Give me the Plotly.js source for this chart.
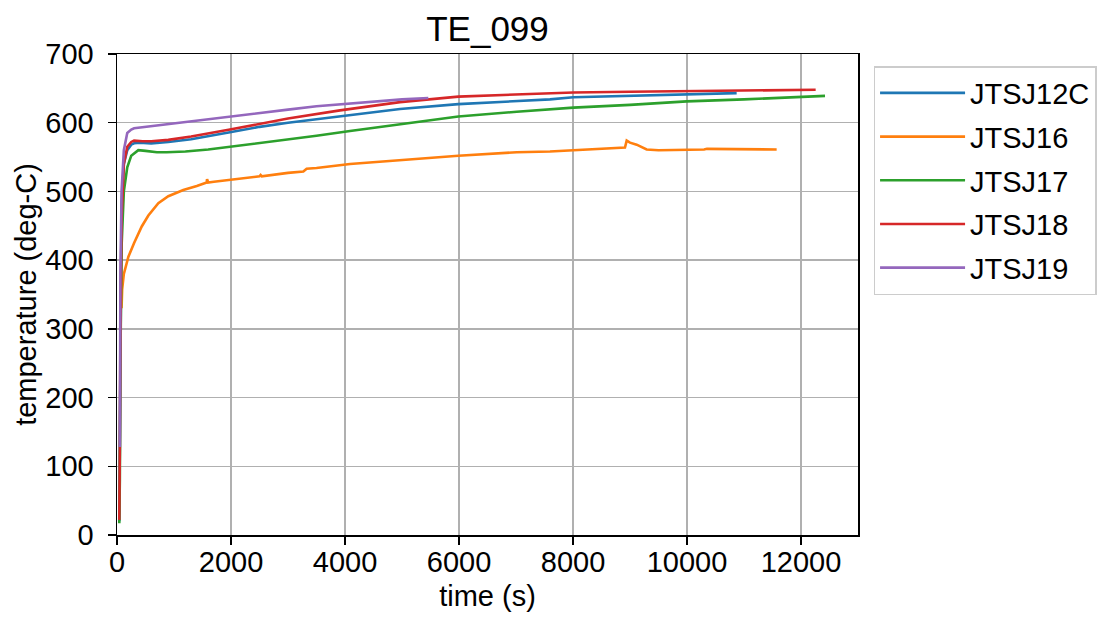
<!DOCTYPE html>
<html>
<head>
<meta charset="utf-8">
<script src="https://cdn.plot.ly/plotly-3.0.1.min.js"></script>
<style>html,body{margin:0;padding:0;background:#fff}#chart{width:1110px;height:618px}</style>
</head>
<body>
<div id="chart"></div>
<script>
// JTSJ12C (blue)
const x12C = [40, 50, 60, 80, 120, 180, 250, 300, 400, 600, 900, 1300, 1982, 2500, 3000, 3912, 4965, 5988, 7012, 7596, 8006, 9000, 9994, 10871];
const t12C = [20, 150, 350, 480, 540, 560, 568, 570, 571, 570, 572, 576, 586, 594, 600, 609, 620, 627, 631, 634, 637, 639, 641, 643];
// JTSJ16 (orange)
const x16 = [80, 90, 120, 200, 300, 434, 550, 725, 900, 1163, 1400, 1573, 1580, 1600, 1700, 2000, 2500, 2520, 2540, 3000, 3269, 3327, 3500, 4088, 4965, 5988, 7012, 7596, 8006, 8912, 8942, 9000, 9117, 9292, 9500, 10000, 10300, 10350, 10500, 10600, 11000, 11573];
const t16 = [330, 357, 380, 405, 425, 449, 465, 483, 493, 502, 508, 513, 518, 513, 514, 517, 522, 524, 522, 527, 529, 533, 534, 540, 546, 552, 557, 558, 560, 564, 574, 571, 568, 561, 560, 560, 561, 562, 562, 561, 561, 561];
// JTSJ17 (green)
const x17 = [40, 50, 60, 80, 120, 180, 250, 374, 500, 700, 872, 1200, 1600, 1982, 2500, 3000, 3500, 4088, 4965, 5988, 7012, 7596, 8006, 9000, 9994, 11000, 12421];
const t17 = [17, 80, 250, 420, 500, 535, 552, 560, 559, 557, 557, 558, 561, 565, 570, 576, 581, 588, 598, 609, 616, 620, 622, 626, 631, 634, 639];
// JTSJ18 (red)
const x18 = [40, 45, 50, 60, 80, 120, 180, 250, 300, 450, 600, 900, 1300, 1982, 2500, 3000, 3912, 4965, 5988, 7012, 7596, 8006, 9000, 9994, 11000, 12257];
const t18 = [22, 60, 128, 300, 460, 540, 565, 572, 574, 573, 573, 575, 580, 590, 598, 606, 618, 630, 638, 641, 642, 644, 645, 646, 647, 648];
// JTSJ19 (purple)
const x19 = [50, 55, 60, 80, 120, 180, 250, 300, 400, 600, 1000, 1500, 1982, 2500, 3000, 3500, 4088, 4500, 5000, 5462];
const t19 = [128, 250, 380, 500, 560, 585, 590, 592, 593, 595, 600, 605, 609, 614, 619, 624, 628, 631, 634, 636];

const names = ['JTSJ12C', 'JTSJ16', 'JTSJ17', 'JTSJ18', 'JTSJ19'];
const colors = ['#1f77b4', '#ff7f0e', '#2ca02c', '#d62728', '#9467bd'];
const xs = [x12C, x16, x17, x18, x19];
const ts = [t12C, t16, t17, t18, t19];

const FONT = 'Liberation Sans, Arial, sans-serif';
const traces = names.map((n, i) => ({
  type: 'scatter', mode: 'lines', name: n, legendgroup: n,
  x: xs[i], y: ts[i],
  line: {color: colors[i], width: 2.6}
}));

const axisCommon = {
  showline: true, mirror: true, linecolor: '#000', linewidth: 1.5,
  ticks: 'outside', ticklen: 8, tickwidth: 1.5, tickcolor: '#000',
  showgrid: true, gridcolor: '#b0b0b0', gridwidth: 1.3,
  zeroline: false, tickformat: 'd',
  tickfont: {family: FONT, size: 29, color: '#000'}
};

const layout = {
  width: 1110, height: 618,
  margin: {l: 117, r: 252, t: 54, b: 83},
  paper_bgcolor: '#fff', plot_bgcolor: '#fff',
  font: {family: FONT, color: '#000'},
  title: {text: 'TE_099', font: {family: FONT, size: 35, color: '#000'},
          x: 0.5, xref: 'paper', y: 0.953, yref: 'container', yanchor: 'middle'},
  xaxis: Object.assign({}, axisCommon, {
    range: [0, 13000], tickmode: 'linear', tick0: 0, dtick: 2000,
    ticklabelstandoff: -7,
    title: {text: 'time (s)', font: {family: FONT, size: 29, color: '#000'}, standoff: 8}
  }),
  yaxis: Object.assign({}, axisCommon, {
    range: [0, 700], tickmode: 'linear', tick0: 0, dtick: 100,
    ticklabelstandoff: 8,
    title: {text: 'temperature (deg-C)', font: {family: FONT, size: 29, color: '#000'}, standoff: 0}
  }),
  legend: {
    x: 1.021, xanchor: 'left', y: 0.975, yanchor: 'top',
    traceorder: 'grouped', tracegroupgap: 3, itemwidth: 85,
    bordercolor: '#cccccc', borderwidth: 1.5, bgcolor: '#fff',
    font: {family: FONT, size: 29, color: '#000'}
  },
  showlegend: true
};

Plotly.newPlot('chart', traces, layout, {displayModeBar: false, staticPlot: true});
</script>
</body>
</html>
